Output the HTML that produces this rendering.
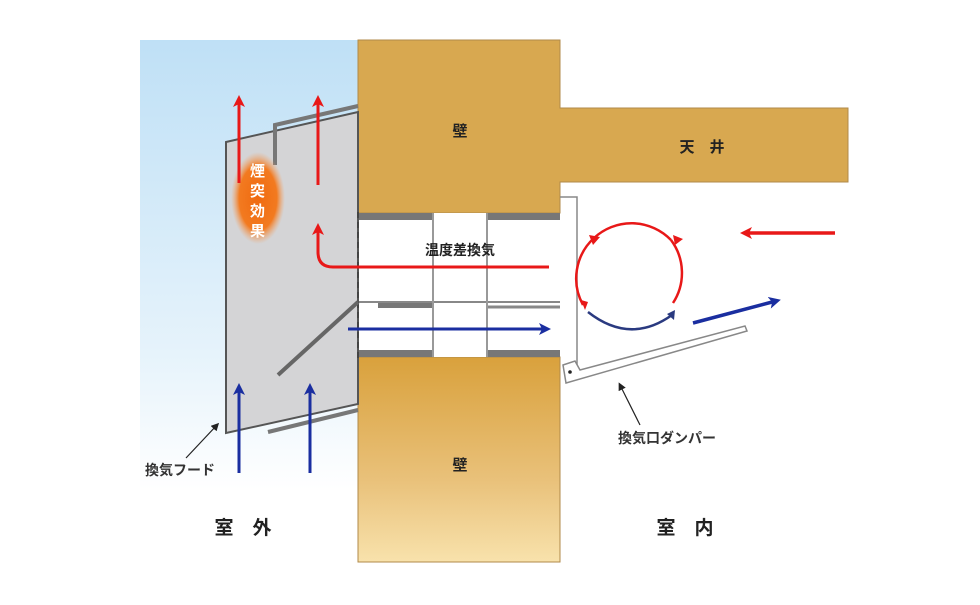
<!DOCTYPE html>
<html><head><meta charset="utf-8"><style>
html,body{margin:0;padding:0;background:#fff;}
svg text{font-family:"Liberation Sans","Noto Sans CJK JP",sans-serif;font-weight:bold;}
</style></head><body>
<svg width="980" height="600" viewBox="0 0 980 600" xmlns="http://www.w3.org/2000/svg">
<defs>
<linearGradient id="sky" x1="0" y1="0" x2="0" y2="1">
<stop offset="0" stop-color="#bfe0f6"/><stop offset="0.7" stop-color="#e6f3fb"/><stop offset="1" stop-color="#ffffff"/>
</linearGradient>
<linearGradient id="wu" x1="0" y1="0" x2="0" y2="1">
<stop offset="0" stop-color="#dcb060"/><stop offset="1" stop-color="#d49e3c"/>
</linearGradient>
<linearGradient id="wl" x1="0" y1="0" x2="0" y2="1">
<stop offset="0" stop-color="#d9a13c"/><stop offset="0.6" stop-color="#e9c17a"/><stop offset="1" stop-color="#f8e2ac"/>
</linearGradient>
<radialGradient id="glow" cx="0.5" cy="0.5" r="0.5">
<stop offset="0" stop-color="#f06a10"/><stop offset="0.7" stop-color="#f27a20"/><stop offset="1" stop-color="#f5a060" stop-opacity="0"/>
</radialGradient>
<marker id="ar" markerWidth="12" markerHeight="12" refX="7" refY="6" orient="auto" markerUnits="userSpaceOnUse"><path d="M0,0 L12,6 L0,12 L3,6Z" fill="#e81818"/></marker>
<marker id="ab" markerWidth="12" markerHeight="12" refX="7" refY="6" orient="auto" markerUnits="userSpaceOnUse"><path d="M0,0 L12,6 L0,12 L3,6Z" fill="#1a2ea0"/></marker>
<marker id="ak" markerWidth="8" markerHeight="8" refX="5" refY="4" orient="auto" markerUnits="userSpaceOnUse"><path d="M0,0 L8,4 L0,8Z" fill="#222"/></marker>
</defs>
<rect x="140" y="40" width="218" height="450" fill="url(#sky)"/>
<!-- walls -->
<path d="M358,40 L560,40 L560,108 L848,108 L848,182 L560,182 L560,213 L358,213Z" fill="#d8a850" stroke="#b08a4a" stroke-width="1"/>
<rect x="358" y="357" width="202" height="205" fill="url(#wl)" stroke="#b08a4a" stroke-width="1"/>
<!-- duct -->
<rect x="358" y="213" width="202" height="144" fill="#fff"/>
<rect x="358" y="213" width="75" height="7" fill="#777"/>
<rect x="487" y="213" width="73" height="7" fill="#777"/>
<rect x="358" y="350" width="75" height="7" fill="#777"/>
<rect x="487" y="350" width="73" height="7" fill="#777"/>
<rect x="378" y="301" width="55" height="7" fill="#777"/>
<line x1="358" y1="302" x2="560" y2="302" stroke="#888" stroke-width="2"/>
<line x1="487" y1="307" x2="560" y2="307" stroke="#888" stroke-width="3"/>
<line x1="433" y1="213" x2="433" y2="357" stroke="#999" stroke-width="2"/>
<line x1="487" y1="213" x2="487" y2="357" stroke="#999" stroke-width="2"/>
<!-- hood -->
<polygon points="226,142 358,112 358,404 226,433" fill="#d4d4d6" stroke="#555" stroke-width="2"/>
<line x1="358" y1="212" x2="358" y2="358" stroke="#444" stroke-width="2" stroke-dasharray="6,4"/>
<polyline points="275,165 275,125 358,106" fill="none" stroke="#777" stroke-width="4"/>
<line x1="268" y1="432" x2="358" y2="410" stroke="#777" stroke-width="4"/>
<line x1="278" y1="375" x2="358" y2="302" stroke="#666" stroke-width="4"/>
<ellipse cx="258" cy="198" rx="27" ry="46" fill="url(#glow)"/>
<text fill="#fff" font-size="15"><tspan x="250" y="176">煙</tspan><tspan x="250" y="196">突</tspan><tspan x="250" y="216">効</tspan><tspan x="250" y="236">果</tspan></text>
<!-- red arrows outside -->
<line x1="239" y1="183" x2="239" y2="100" stroke="#e81818" stroke-width="3" marker-end="url(#ar)"/>
<line x1="318" y1="185" x2="318" y2="100" stroke="#e81818" stroke-width="3" marker-end="url(#ar)"/>
<path d="M549,267 L333,267 Q318,267 318,252 L318,228" fill="none" stroke="#e81818" stroke-width="3" marker-end="url(#ar)"/>
<!-- blue arrows -->
<line x1="348" y1="329" x2="546" y2="329" stroke="#1a2ea0" stroke-width="3" marker-end="url(#ab)"/>
<line x1="239" y1="473" x2="239" y2="388" stroke="#1a2ea0" stroke-width="3" marker-end="url(#ab)"/>
<line x1="310" y1="473" x2="310" y2="388" stroke="#1a2ea0" stroke-width="3" marker-end="url(#ab)"/>
<!-- indoor panel and damper -->
<polyline points="560,197 577,197 577,365" fill="none" stroke="#888" stroke-width="1.5"/>
<polygon points="563,365 575,361 580,370 745,326 747,331 566,383" fill="#fff" stroke="#888" stroke-width="1.5"/>
<circle cx="570" cy="372" r="1.8" fill="#222"/>
<!-- circulation -->
<path d="M673,303 A55,55 0 0 0 671,240" fill="none" stroke="#e81818" stroke-width="2.5"/>
<path d="M675,245 L673,235 L683,239Z" fill="#e81818"/>
<path d="M671,240 A55,55 0 0 0 594,238" fill="none" stroke="#e81818" stroke-width="2.5"/>
<path d="M589,235 L600,237 L593,245Z" fill="#e81818"/>
<path d="M594,238 A55,55 0 0 0 583,305" fill="none" stroke="#e81818" stroke-width="2.5"/>
<path d="M581,300 L585,310 L588,302Z" fill="#e81818"/>
<path d="M588,312 Q630,345 672,315" fill="none" stroke="#2a3a80" stroke-width="2.5"/>
<path d="M675,310 L674,320 L667,314Z" fill="#2a3a80"/>
<line x1="835" y1="233" x2="745" y2="233" stroke="#e81818" stroke-width="3.5" marker-end="url(#ar)"/>
<line x1="693" y1="323" x2="776" y2="301" stroke="#1a2ea0" stroke-width="3.5" marker-end="url(#ab)"/>
<!-- leader lines -->
<line x1="186" y1="458" x2="217" y2="425" stroke="#222" stroke-width="1.2" marker-end="url(#ak)"/>
<line x1="640" y1="425" x2="620" y2="385" stroke="#222" stroke-width="1.2" marker-end="url(#ak)"/>
<!-- labels -->
<text x="460" y="136" font-size="15" fill="#222" text-anchor="middle">壁</text>
<text x="460" y="470" font-size="15" fill="#222" text-anchor="middle">壁</text>
<text x="702" y="152" font-size="15" fill="#222" text-anchor="middle">天　井</text>
<text x="460" y="255" font-size="14" fill="#222" text-anchor="middle">温度差換気</text>
<text x="145" y="475" font-size="14" fill="#333">換気フード</text>
<text x="618" y="443" font-size="14" fill="#333">換気口ダンパー</text>
<text x="243" y="534" font-size="19" fill="#222" text-anchor="middle">室　外</text>
<text x="685" y="534" font-size="19" fill="#222" text-anchor="middle">室　内</text>
</svg>
</body></html>
